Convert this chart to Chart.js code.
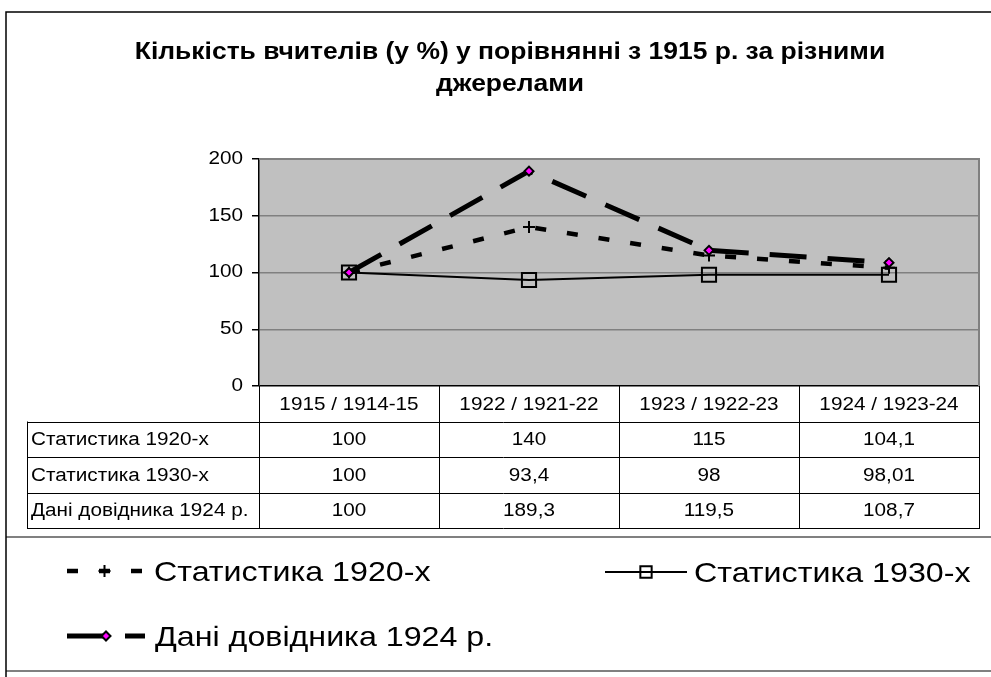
<!DOCTYPE html>
<html>
<head>
<meta charset="utf-8">
<script src="https://cdn.jsdelivr.net/npm/chart.js@4.4.0/dist/chart.umd.min.js"></script>
<style>
  html, body { margin: 0; padding: 0; background: #fff; }
</style>
</head>
<body>
<canvas id="teachers_chart" width="991" height="677"></canvas>
<script>
/**
* Data
*/
const categories = ['1915 / 1914-15', '1922 / 1921-22', '1923 / 1922-23', '1924 / 1923-24'];
const stat1920 = [100, 140, 115, 104.1];
const stat1930 = [100, 93.4, 98, 98.01];
const dovidnyk1924 = [100, 189.3, 119.5, 108.7];
const seriesNames = ['Статистика 1920-х', 'Статистика 1930-х', 'Дані довідника 1924 р.'];
const yTicks = [0, 50, 100, 150, 200];
const titleLines = ['Кількість вчителів (у %) у порівнянні з 1915 р. за різними', 'джерелами'];

const FONT = 'Arial, "Liberation Sans", sans-serif';
const SX = 1.15; // the original picture is a bit stretched sideways

function stretchText(ctx, text, x, y, align, font) {
    ctx.save();
    ctx.font = font;
    ctx.fillStyle = '#000';
    ctx.textAlign = align;
    ctx.textBaseline = 'middle';
    ctx.translate(x, y);
    ctx.scale(SX, 1);
    ctx.fillText(text, 0, 0);
    ctx.restore();
}

function fmt(v) {
    return String(v).replace('.', ',');
}

const excelLook = {
    id: 'excelLook',
    beforeDraw(chart) {
        const {ctx, chartArea: {left, top, width, height}} = chart;
        ctx.save();
        ctx.fillStyle = '#fff';
        ctx.fillRect(0, 0, chart.width, chart.height);
        ctx.fillStyle = '#c0c0c0';
        ctx.fillRect(left, top, width, height);
        ctx.restore();
    },
    beforeDatasetsDraw(chart) {
        const {ctx, chartArea: {left, top, right, bottom}} = chart;
        ctx.save();
        ctx.strokeStyle = '#808080';
        ctx.lineWidth = 2;
        ctx.beginPath();
        ctx.moveTo(left, top);
        ctx.lineTo(right, top);
        ctx.lineTo(right, bottom);
        ctx.stroke();
        ctx.restore();
    },
    afterDraw(chart) {
        const {ctx, chartArea: {left, right, bottom}, scales: {x, y}} = chart;
        ctx.save();

        // title
        stretchText(ctx, titleLines[0], 510, 53, 'center', 'bold 23px ' + FONT);
        stretchText(ctx, titleLines[1], 510, 85, 'center', 'bold 23px ' + FONT);

        // y tick labels
        yTicks.forEach(t => {
            stretchText(ctx, String(t), 243, y.getPixelForValue(t), 'right', '18px ' + FONT);
        });

        // data table
        const colW = (right - left) / categories.length;
        const rowH = 35.5;
        const tableLeft = 27;
        const rows = [stat1920, stat1930, dovidnyk1924];
        const tableBottom = bottom + rowH * (rows.length + 1);
        ctx.strokeStyle = '#000';
        ctx.lineWidth = 1;
        ctx.beginPath();
        for (let i = 0; i <= categories.length; i++) {
            const cx = Math.round(left + colW * i) + 0.5;
            ctx.moveTo(cx, bottom);
            ctx.lineTo(cx, tableBottom);
        }
        ctx.moveTo(tableLeft + 0.5, bottom + rowH);
        ctx.lineTo(tableLeft + 0.5, tableBottom);
        for (let r = 1; r <= rows.length + 1; r++) {
            const ry = Math.round(bottom + rowH * r) + 0.5;
            ctx.moveTo(tableLeft, ry);
            ctx.lineTo(Math.round(right) + 1, ry);
        }
        ctx.stroke();

        categories.forEach((c, i) => {
            stretchText(ctx, c, x.getPixelForValue(i), bottom + rowH / 2 + 1, 'center', '18px ' + FONT);
        });
        rows.forEach((vals, r) => {
            const cy = bottom + rowH * (r + 1) + rowH / 2 + 1;
            stretchText(ctx, seriesNames[r], 31, cy, 'left', '18px ' + FONT);
            vals.forEach((v, i) => {
                stretchText(ctx, fmt(v), x.getPixelForValue(i), cy, 'center', '18px ' + FONT);
            });
        });

        // legend box
        ctx.strokeStyle = '#808080';
        ctx.lineWidth = 2;
        ctx.beginPath();
        ctx.moveTo(6, 537);
        ctx.lineTo(chart.width, 537);
        ctx.moveTo(6, 671);
        ctx.lineTo(chart.width, 671);
        ctx.stroke();

        const ds = chart.data.datasets;
        const byLabel = name => ds.find(d => d.label === name);
        const items = [
            {d: byLabel(seriesNames[0]), x0: 67, x1: 142, y: 571, tx: 154},
            {d: byLabel(seriesNames[1]), x0: 605, x1: 687, y: 572, tx: 694},
            {d: byLabel(seriesNames[2]), x0: 67, x1: 145, y: 636, tx: 155}
        ];
        items.forEach(it => {
            ctx.save();
            ctx.strokeStyle = it.d.borderColor;
            ctx.lineWidth = it.d.borderWidth;
            ctx.lineCap = 'butt';
            ctx.setLineDash(it.d.borderDash || []);
            ctx.beginPath();
            ctx.moveTo(it.x0, it.y);
            ctx.lineTo(it.x1, it.y);
            ctx.stroke();
            ctx.setLineDash([]);
            ctx.strokeStyle = it.d.pointBorderColor;
            ctx.fillStyle = it.d.pointBackgroundColor;
            ctx.lineWidth = it.d.pointBorderWidth;
            Chart.helpers.drawPoint(ctx, {
                pointStyle: it.d.pointStyle,
                radius: it.d.legendRadius,
                borderWidth: it.d.pointBorderWidth,
                rotation: 0
            }, (it.x0 + it.x1) / 2, it.y);
            ctx.restore();
            stretchText(ctx, it.d.label, it.tx, it.y + 2, 'left', '28px ' + FONT);
        });

        // outer border
        ctx.strokeStyle = '#000';
        ctx.lineWidth = 1.5;
        ctx.beginPath();
        ctx.moveTo(6, chart.height);
        ctx.lineTo(6, 12);
        ctx.lineTo(chart.width, 12);
        ctx.stroke();

        ctx.restore();
    }
};

const ctx = document.getElementById('teachers_chart').getContext('2d');

let teachersChart = new Chart(ctx, {
    type: 'line',
    data: {
        labels: categories,
        datasets: [{
            label: seriesNames[0],
            data: stat1920,
            order: 1,
            borderColor: '#000',
            borderWidth: 4.5,
            borderDash: [11, 21],
            borderCapStyle: 'butt',
            pointStyle: 'cross',
            pointRadius: 6,
            pointBorderWidth: 2,
            pointBorderColor: '#000',
            pointBackgroundColor: '#000',
            legendRadius: 6,
            tension: 0
        }, {
            label: seriesNames[1],
            data: stat1930,
            order: 2,
            borderColor: '#000',
            borderWidth: 2,
            pointStyle: 'rect',
            pointRadius: 10,
            pointBorderWidth: 2,
            pointBorderColor: '#000',
            pointBackgroundColor: 'rgba(0,0,0,0)',
            legendRadius: 8,
            tension: 0
        }, {
            label: seriesNames[2],
            data: dovidnyk1924,
            order: 0,
            borderColor: '#000',
            borderWidth: 5,
            borderDash: [37, 21],
            borderCapStyle: 'butt',
            pointStyle: 'rectRot',
            pointRadius: 4.5,
            pointBorderWidth: 2,
            pointBorderColor: '#000',
            pointBackgroundColor: '#ff00ff',
            legendRadius: 4.5,
            tension: 0
        }]
    },
    options: {
        responsive: false,
        animation: false,
        layout: {
            padding: {top: 159, right: 9, left: 0, bottom: 0}
        },
        scales: {
            x: {
                type: 'category',
                offset: true,
                grid: {display: false},
                border: {display: false},
                ticks: {display: false},
                afterFit(scale) { scale.height = 291; }
            },
            y: {
                min: 0,
                max: 200,
                ticks: {stepSize: 50, display: false},
                grid: {
                    color: c => (c.tick && c.tick.value === 0 ? '#000' : '#808080'),
                    lineWidth: 1.5,
                    tickColor: '#000',
                    tickLength: 7,
                    drawTicks: true
                },
                border: {color: '#000', width: 1.5},
                afterFit(scale) { scale.width = 259; }
            }
        },
        plugins: {
            legend: {display: false},
            tooltip: {enabled: false},
            title: {display: false}
        }
    },
    plugins: [excelLook]
});
</script>
</body>
</html>
